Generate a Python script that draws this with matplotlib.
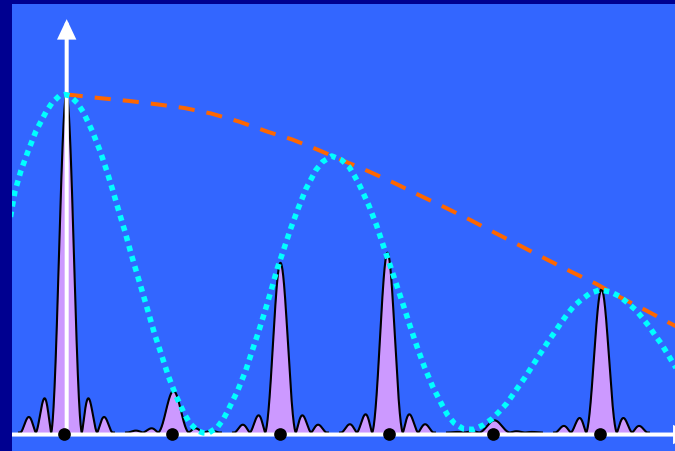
import numpy as np
import matplotlib
matplotlib.use("Agg")
import matplotlib.pyplot as plt

NAVY = "#000090"
BLUE = "#3366FF"
LAVENDER = "#CC99FF"
CYAN = "#00FFFF"
ORANGE = "#FF6600"

# Diffraction orders along the screen axis (x in units of the order spacing)
orders = [0, 1, 2, 3, 4, 5]
# Order markers on the axis
marker_pos = [-0.02, 0.99, 2.00, 3.01, 3.99, 4.99]
# Height of each principal maximum, % of the central maximum
peak_height = [100.0, 12.3, 50.2, 53.2, 3.6, 42.4]
# Fringe shape around every principal maximum
zero_spacing = 0.143      # distance between adjacent zeros (order units)
lobes_shown = 3           # zeros drawn on each side of a maximum
lobe_exponent = 1.5

# Dotted envelope through the principal maxima (order units, % intensity)
env_x = [-0.523, -0.481, -0.425, -0.357, -0.285, -0.192, -0.136, -0.067, -0.014,
         0.033, 0.101, 0.157, 0.241, 0.313, 0.376, 0.435, 0.493, 0.550, 0.603,
         0.659, 0.715, 0.771, 0.827, 0.890, 0.951, 1.023, 1.105, 1.154, 1.226,
         1.276, 1.325, 1.409, 1.465, 1.512, 1.600, 1.675, 1.736, 1.799, 1.858,
         1.914, 1.970, 2.033, 2.095, 2.164, 2.238, 2.332, 2.394, 2.479, 2.572,
         2.643, 2.696, 2.743, 2.827, 2.899, 2.961, 3.026, 3.089, 3.151, 3.213,
         3.276, 3.344, 3.422, 3.514, 3.561, 3.623, 3.708, 3.802, 3.895, 3.979,
         4.051, 4.114, 4.170, 4.229, 4.285, 4.338, 4.394, 4.450, 4.503, 4.559,
         4.619, 4.675, 4.736, 4.808, 4.893, 4.986, 5.086, 5.173, 5.250, 5.322,
         5.385, 5.447, 5.500, 5.556, 5.609, 5.662, 5.715]
env_y = [63.8, 71.4, 77.5, 83.4, 89.2, 94.8, 97.5, 99.6, 100.0,
         99.6, 97.5, 94.8, 89.2, 83.4, 77.5, 71.4, 65.1, 59.1, 53.0,
         47.0, 41.0, 34.9, 28.8, 22.8, 16.8, 10.9, 5.3, 2.7, 0.5,
         -0.1, -0.2, 1.5, 3.9, 6.7, 12.4, 18.3, 24.2, 30.2, 36.2,
         42.2, 48.5, 54.4, 60.3, 66.2, 72.1, 77.7, 80.1, 81.8, 80.6,
         78.5, 75.7, 72.9, 67.1, 61.2, 55.3, 49.3, 43.3, 37.4, 31.3,
         25.4, 19.5, 13.6, 7.9, 5.2, 2.8, 1.1, 0.9, 2.2, 4.1,
         6.4, 8.6, 11.1, 13.8, 16.3, 18.9, 21.7, 24.4, 27.0, 29.5,
         32.3, 34.8, 37.2, 39.2, 41.2, 42.2, 41.6, 40.2, 38.2, 36.2,
         33.8, 31.3, 28.8, 26.4, 23.7, 20.9, 18.2]

# Dashed outer envelope
outer_x = [0.002, 0.068, 0.322, 0.584, 0.846, 1.103, 1.350, 1.612, 1.879,
           2.109, 2.346, 2.582, 2.829, 3.065, 3.304, 3.537, 3.773, 3.997,
           4.238, 4.477, 4.708, 4.944, 5.176, 5.411, 5.631, 5.734]
outer_y = [100.0, 99.8, 98.9, 98.1, 97.1, 96.0, 94.4, 92.0, 89.0,
           86.7, 83.7, 80.5, 77.2, 73.8, 70.1, 66.6, 62.9, 59.2,
           55.3, 51.4, 47.7, 44.1, 40.0, 36.2, 32.5, 30.8]

fig = plt.figure(figsize=(6.75, 4.51), dpi=100, facecolor=NAVY)
ax = fig.add_axes([12 / 675, 0, 663 / 675, 447 / 451])
ax.set_facecolor(BLUE)
ax.set_xlim(-0.509, 5.687)
ax.set_ylim(-5.47, 126.78)
for s in ax.spines.values():
    s.set_visible(False)
ax.set_xticks([])
ax.set_yticks([])

# Principal maxima with their side lobes
half = (lobes_shown + 0.1) * zero_spacing
for c, h in zip(orders, peak_height):
    x = np.linspace(c - half, c + half, 801)
    u = (x - c) / zero_spacing
    y = h * np.abs(np.sinc(u)) ** lobe_exponent
    y[np.abs(u) > lobes_shown] = 0.0
    ax.fill_between(x, 0, y, color=LAVENDER, lw=0, zorder=1)
    ax.plot(x, y, color="black", lw=1.5, solid_joinstyle="round", zorder=2)

# Axes drawn as white arrows
arrow_style = "-|>,head_length=0.55,head_width=0.26"
ax.annotate("", xy=(5.86, -0.6), xytext=(-0.509, -0.6),
            arrowprops=dict(arrowstyle=arrow_style, mutation_scale=18, lw=2.9,
                            color="white", shrinkA=0, shrinkB=0,
                            joinstyle="miter", capstyle="butt"),
            annotation_clip=False, zorder=3)
ax.annotate("", xy=(0.002, 122.3), xytext=(0.002, -0.6),
            arrowprops=dict(arrowstyle=arrow_style, mutation_scale=18, lw=2.9,
                            color="white", shrinkA=0, shrinkB=0,
                            joinstyle="miter"),
            annotation_clip=False, zorder=3)

# Order markers
ax.scatter(marker_pos, [-0.44] * len(marker_pos), s=83, color="black",
           linewidths=0, zorder=4)

# Envelopes
ax.plot(outer_x, outer_y, color=ORANGE, lw=2.9, dashes=(4, 3),
        dash_capstyle="butt", zorder=5)
ax.plot(env_x, env_y, color=CYAN, lw=4, dashes=(1, 0.9),
        dash_capstyle="butt", zorder=6)

fig.savefig("out.png", dpi=100, facecolor=NAVY)
